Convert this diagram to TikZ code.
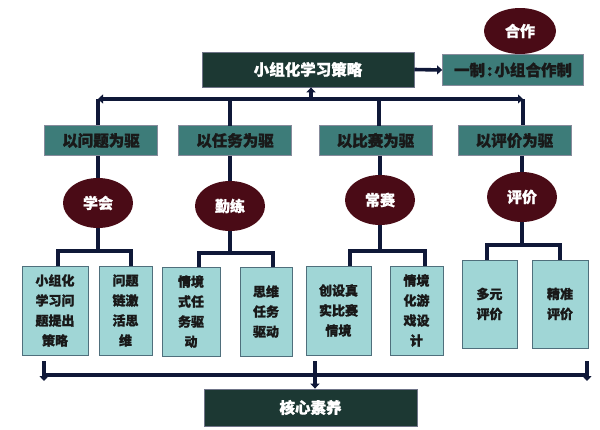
\documentclass[tikz,border=0pt]{standalone}
\usepackage{fontspec}
\newfontfamily\cjk{Noto Sans CJK SC}[BoldFeatures={FakeBold=1.2}]
\usetikzlibrary{shapes.geometric,arrows.meta}
\definecolor{darkbox}{HTML}{1C3833}
\definecolor{tealbox}{HTML}{3D7C79}
\definecolor{lightbox}{HTML}{A0D6D6}
\definecolor{lightborder}{HTML}{4F6F7C}
\definecolor{maroon}{HTML}{4A0B16}
\definecolor{linecol}{HTML}{0F1838}
\begin{document}
\begin{tikzpicture}[x=1pt,y=-1pt,
  font=\cjk\bfseries,
  darkrect/.style={draw=linecol!60,line width=0.8pt,fill=darkbox,text=white,font=\cjk\bfseries\fontsize{15.5}{17}\selectfont,inner sep=0pt},
  tealrect/.style={draw=linecol!50,line width=0.8pt,fill=tealbox,text=black!90,font=\cjk\bfseries\fontsize{15.5}{17}\selectfont,inner sep=0pt,minimum width=113pt,minimum height=30pt},
  oval/.style={ellipse,fill=maroon,text=white,font=\cjk\bfseries\fontsize{15}{17}\selectfont,minimum width=70pt,minimum height=50pt,inner sep=0pt},
  leaf/.style={draw=lightborder,line width=1pt,fill=lightbox,text=black!90,font=\cjk\bfseries\fontsize{13}{20}\selectfont,align=center,inner sep=0pt},
  conn/.style={draw=linecol,line width=3.6pt},
  arr/.style={conn,-{Triangle[width=9pt,length=5pt]}},
]
\useasboundingbox (0,0) rectangle (600,429);
\fill[white] (0,0) rectangle (600,429);

% top
\node[darkrect,minimum width=212pt,minimum height=35pt] (top) at (308,69.5) {小组化学习策略};
\node[oval,minimum width=72pt,minimum height=46pt] (hz) at (520,31) {合作};
\node[tealrect,minimum width=141pt,minimum height=31pt] (yz) at (513,70) {一制\hspace{2pt}:\hspace{2pt}小组合作制};

% level 2
\node[tealrect] (l1) at (101,140.5) {以问题为驱};
\node[tealrect] (l2) at (235,140.5) {以任务为驱};
\node[tealrect] (l3) at (375.5,140.5) {以比赛为驱};
\node[tealrect] (l4) at (514.5,140.5) {以评价为驱};

% ellipses
\node[oval] (e1) at (98,203) {学会};
\node[oval] (e2) at (230,206) {勤练};
\node[oval] (e3) at (380,200) {常赛};
\node[oval] (e4) at (522,197) {评价};

% leaves
\node[leaf,minimum width=66pt,minimum height=89pt] (b1) at (55,310.5) {小组化\\学习问\\题提出\\策略};
\node[leaf,minimum width=53pt,minimum height=89pt] (b2) at (125.5,310.5) {问题\\链激\\活思\\维};
\node[leaf,minimum width=58pt,minimum height=89pt] (b3) at (191,311.5) {情境\\式任\\务驱\\动};
\node[leaf,minimum width=52pt,minimum height=89pt] (b4) at (266,311.5) {思维\\任务\\驱动};
\node[leaf,minimum width=65pt,minimum height=89pt] (b5) at (338.5,310.5) {创设真\\实比赛\\情境};
\node[leaf,minimum width=53pt,minimum height=89pt] (b6) at (416.5,310.5) {情境\\化游\\戏设\\计};
\node[leaf,minimum width=55pt,minimum height=88pt] (b7) at (489.5,304) {多元\\评价};
\node[leaf,minimum width=56pt,minimum height=88pt] (b8) at (560,304) {精准\\评价};

% bottom
\node[darkrect,minimum width=213pt,minimum height=37pt] (core) at (310.5,407.5) {核心素养};

% top connectors
\draw[arr] (top.east) -- (yz.west);
\coordinate (tl) at (98,99);
\coordinate (tr) at (523,99);
\coordinate (tm) at (311,99);
\draw[conn,{Triangle[width=9pt,length=5pt]}-{Triangle[width=9pt,length=5pt]}] (tl) -- (tr);
\draw[arr] (tm) -- (top.south -| tm);
\draw[conn] (tl) -- (tl |- l1.north);
\draw[conn] (230,99) -- (230,126);
\draw[conn] (379,99) -- (379,126);
\draw[conn] (tr) -- (tr |- l4.north);

% level2 -> ellipses
\draw[conn] (e1.north |- l1.south) -- (e1.north);
\draw[conn] (e2.north |- l2.south) -- (e2.north);
\draw[conn] (e3.north |- l3.south) -- (e3.north);
\draw[conn] (e4.north |- l4.south) -- (e4.north);

% branches
\coordinate (j1) at (98,251);
\coordinate (j2) at (232,253);
\coordinate (j3) at (380,251);
\coordinate (j4) at (522,245);
\draw[conn] (e1.south) -- (j1);
\draw[conn] (e2.south) -- (e2.south |- j2);
\draw[conn] (e3.south) -- (j3);
\draw[conn] (e4.south) -- (j4);
\draw[conn] (58,266) -- (58,251) -- (131,251) -- (131,266);
\draw[conn] (199,267) -- (199,253) -- (273,253) -- (273,267);
\draw[conn] (350,266) -- (350,251) -- (425,251) -- (425,266);
\draw[conn] (487,260) -- (487,245) -- (560,245) -- (560,260);

% bottom connectors
\coordinate (bl) at (44,375);
\coordinate (br) at (587,375);
\coordinate (bm) at (315,375);
\draw[conn] (bl) -- (br);
\draw[arr] (44,361) -- (44,381);
\draw[arr] (587,361) -- (587,381);
\draw[arr] (315,361) -- (core.north -| bm);
\end{tikzpicture}
\end{document}
